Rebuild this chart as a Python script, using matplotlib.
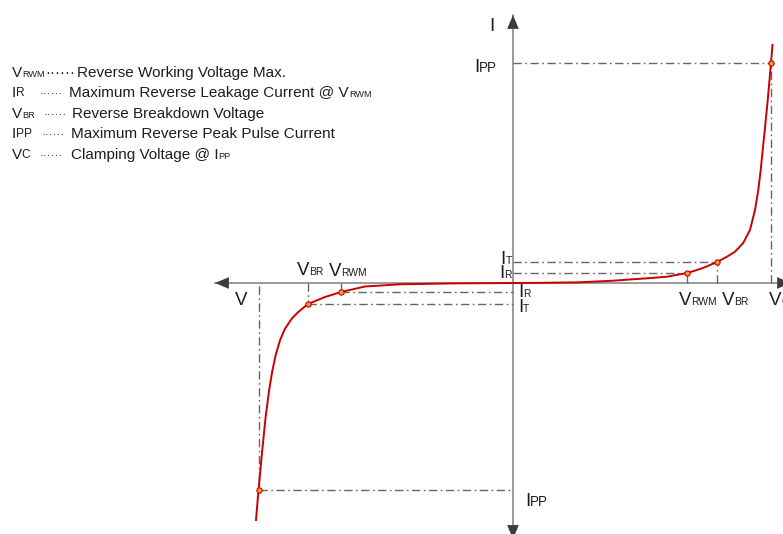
import matplotlib
matplotlib.use('Agg')
import matplotlib.pyplot as plt

plt.rcParams['font.family'] = ['Liberation Sans', 'DejaVu Sans']

# Diagram values (arbitrary units, origin at the axis crossing)
# forward (right) side
v_rwm, v_br, v_c = 174, 204, 258
i_r, i_t, i_pp = 10, 21, 220
# reverse (left) side
v_rwm_n, v_br_n, v_c_n = -172, -205, -254.5
i_r_n, i_t_n, i_pp_n = -9, -21, -207

# I-V curve
curve_v = [-257, -254.5, -251, -247.5, -244, -240.7, -237.3, -233, -228, -221.3, -214.7,
           -205, -188, -172, -148, -113, -60,
           0, 30, 67, 100, 134, 154, 174, 177, 190, 204, 214, 222, 230, 237, 242,
           245.3, 247.7, 249.7, 251.8, 255, 258, 259.5]
curve_i = [-237, -207, -170, -135, -108, -88, -72, -57.3, -45.7, -35.7, -29,
           -21, -14, -9, -3.5, -1.3, -0.4,
           0, 0.2, 0.7, 2.3, 4.7, 6.3, 10, 10.8, 15, 21, 26.3, 31.3, 39.7, 53, 73,
           93, 113, 133, 153, 186, 220, 238]

legend_rows = [
    ('V', 'RWM', 0.6, 'Reverse Working Voltage Max.', None),
    ('I', 'R', 0.78, 'Maximum Reverse Leakage Current @ V', 'RWM'),
    ('V', 'BR', 0.6, 'Reverse Breakdown Voltage', None),
    ('I', 'PP', 0.78, 'Maximum Reverse Peak Pulse Current', None),
    ('V', 'C', 0.78, 'Clamping Voltage @ I', 'PP'),
]

TXT = '#1e1e1e'
DASH = '#666666'
RED = '#c80000'

fig = plt.figure(figsize=(7.83, 5.34), dpi=100)
ax = fig.add_axes([0, 0, 1, 1])
ax.set_xlim(-513, 270)
ax.set_ylim(-251, 283)
ax.axis('off')


def sub_label(x, y, main, sub, size, ratio=0.55, ha='left'):
    s = size * ratio
    lift = 0.21 * (size - s)
    if ha == 'left':
        t = ax.text(x, y, main, fontsize=size, ha='left', va='baseline', color=TXT)
        ax.annotate(sub, xy=(1, 0), xycoords=t, xytext=(0, lift), textcoords='offset points',
                    fontsize=s, ha='left', va='bottom', color=TXT)
    else:
        t = ax.text(x, y, sub, fontsize=s, ha='right', va='baseline', color=TXT)
        ax.annotate(main, xy=(0, 0), xycoords=t, xytext=(0, -lift), textcoords='offset points',
                    fontsize=size, ha='right', va='bottom', color=TXT)
    return t


# axes with arrow heads
ax.plot([-298, 270], [0, 0], color='#808080', lw=1.1, zorder=1)
ax.plot([0, 0], [268, -251], color='#808080', lw=1.1, zorder=1)
arrow = dict(arrowstyle='-|>,head_length=1.0,head_width=0.42', mutation_scale=10,
             color='#3c3c3c', lw=0, shrinkA=0, shrinkB=0)
for tip, base in [((-298, 0), (-284, 0)), ((278, 0), (264, 0)),
                  ((0, 268), (0, 254)), ((0, -256), (0, -242))]:
    ax.annotate('', xy=tip, xytext=base, arrowprops=arrow, annotation_clip=False)

# dash-dot guide lines
dd = dict(color=DASH, lw=1.0, dashes=(6, 2.5, 1.2, 2.5), zorder=2)
ax.plot([0, v_rwm], [i_r, i_r], **dd)
ax.plot([0, v_br], [i_t, i_t], **dd)
ax.plot([0, v_c], [i_pp, i_pp], **dd)
ax.plot([v_rwm, v_rwm], [0, i_r], **dd)
ax.plot([v_br, v_br], [0, i_t], **dd)
ax.plot([v_c, v_c], [0, i_pp], **dd)
ax.plot([v_rwm_n, 0], [i_r_n, i_r_n], **dd)
ax.plot([v_br_n, 0], [i_t_n, i_t_n], **dd)
ax.plot([v_c_n, 0], [i_pp_n, i_pp_n], **dd)
ax.plot([v_rwm_n, v_rwm_n], [0, i_r_n], **dd)
ax.plot([v_br_n, v_br_n], [0, i_t_n], **dd)
ax.plot([v_c_n, v_c_n], [-3, i_pp_n], **dd)

# curve and marked points
ax.plot(curve_v, curve_i, color=RED, lw=1.4, zorder=3, solid_joinstyle='round')
ax.plot([v_rwm, v_br, v_c, v_rwm_n, v_br_n, v_c_n],
        [i_r, i_t, i_pp, i_r_n, i_t_n, i_pp_n], 'o', ms=3.8, mfc='#f59a30',
        mec=RED, mew=0.8, zorder=4)

# axis labels
LS = 13.5
ax.text(-21, 252, 'I', fontsize=LS, ha='center', va='baseline', color=TXT)
ax.text(-278, -22, 'V', fontsize=LS, ha='left', va='baseline', color=TXT)
sub_label(-16, 211, 'I', 'PP', LS, 0.72, ha='right')
sub_label(12, -223, 'I', 'PP', LS, 0.72)
sub_label(-1, 19, 'I', 'T', LS, 0.55, ha='right')
sub_label(-1, 5, 'I', 'R', LS, 0.55, ha='right')
sub_label(5, -14, 'I', 'R', LS, 0.55)
sub_label(5, -29, 'I', 'T', LS, 0.55)
sub_label(166, -22, 'V', 'RWM', LS, 0.55)
sub_label(209, -22, 'V', 'BR', LS, 0.55)
sub_label(256, -22, 'V', 'C', LS, 0.55)
sub_label(-216, 8, 'V', 'BR', LS, 0.55)
sub_label(-184, 7, 'V', 'RWM', LS, 0.55)

# legend text block
FS = 11
row_y = [206, 186, 165, 145, 124]
dots_x = [-468, -473, -469, -471, -473]
dots_fs = [FS, 8.5, 8.5, 8.5, 8.5]
desc_x = [-435.7, -443.7, -441, -442, -442.3]
for (m, s, r, desc, tail), y, dx, dfs, tx in zip(legend_rows, row_y, dots_x, dots_fs, desc_x):
    sub_label(-501.3, y, m, s, FS, r)
    ax.text(dx, y, '······', fontsize=dfs, ha='left', va='baseline', color=TXT)
    if tail:
        sub_label(tx, y, desc, tail, FS, 0.6)
    else:
        ax.text(tx, y, desc, fontsize=FS, ha='left', va='baseline', color=TXT)

fig.savefig('out.png', dpi=100)
